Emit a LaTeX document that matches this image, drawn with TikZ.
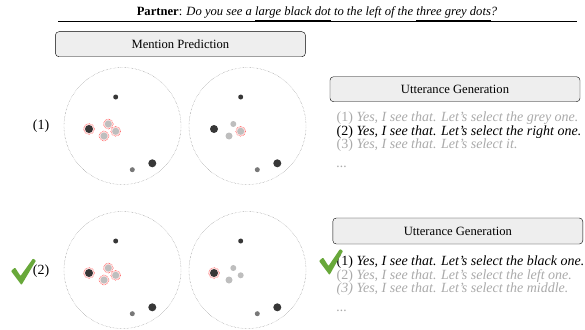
\documentclass[tikz,border=0pt]{standalone}
\usepackage{fontspec}
\setmainfont{Liberation Serif}
\usetikzlibrary{calc}

\definecolor{dotblack}{RGB}{55,55,55}
\definecolor{dotgrey}{RGB}{190,190,190}
\definecolor{dotmid}{RGB}{120,120,120}
\definecolor{boxfill}{RGB}{238,238,238}
\definecolor{faded}{RGB}{170,170,170}
\definecolor{tick}{RGB}{104,168,58}

\tikzset{
  view/.style={draw=gray,densely dotted,thin},
  stagebox/.style={draw,rounded corners=3.5pt,fill=boxfill,thin,inner sep=0pt,
    minimum width=250pt,font=\fontsize{12.6}{14}\selectfont},
  ring/.style={draw=red!80,densely dotted,fill=red!12,line width=0.5pt},
  line/.style={anchor=base west,inner sep=0pt,font=\fontsize{14}{15}\selectfont},
  checkmark/.style={fill=tick,rounded corners=0.8pt},
}

\begin{document}
\begin{tikzpicture}[x=1pt,y=-1pt]
\useasboundingbox (0,0) rectangle (585,329);
% Partner utterance and rule below it
\node[anchor=base,inner sep=0pt,font=\fontsize{12.6}{14}\selectfont] (partner) at (317,15.7)
  {\textbf{Partner}: \textit{Do you see a \underline{large black dot} to the left of the \underline{three grey dots}?}};
\coordinate (ruleL) at (58,21.7);
\coordinate (ruleR) at (577,21.7);
\draw[line width=0.8pt] (ruleL) -- (ruleR);
% Stage boxes
\node[stagebox,minimum height=25pt] (mention) at (180.4,44.2) {Mention Prediction};
\node[stagebox,minimum height=25pt] (gen1) at (455,89.2) {Utterance Generation};
\node[stagebox,minimum height=26pt] (gen2) at (457.8,231) {Utterance Generation};
% Candidate labels
\node[font=\fontsize{14}{15}\selectfont,inner sep=0pt] (cand1) at (41,126.5) {(1)};
\node[font=\fontsize{14}{15}\selectfont,inner sep=0pt] (cand2) at (41,271) {(2)};
% Views for candidate (1)
\begin{scope}[shift={(122.5,126)}]
\draw[view] (0,0) circle (58.5);
\filldraw[ring] (-33.5,3) circle (5.5);
\filldraw[ring] (-14.2,-2) circle (5);
\filldraw[ring] (-6.8,5.3) circle (5);
\filldraw[ring] (-18.5,10) circle (5);
\fill[dotblack] (-6.8,-29) circle (2.5);
\fill[dotblack] (-33.5,3) circle (4);
\fill[dotgrey] (-14.2,-2) circle (3.5);
\fill[dotgrey] (-6.8,5.3) circle (3.5);
\fill[dotgrey] (-18.5,10) circle (3.5);
\fill[dotblack] (29.8,37.3) circle (4);
\fill[dotmid] (9.8,43.7) circle (2.5);
\end{scope}
\begin{scope}[shift={(247.5,126)}]
\draw[view] (0,0) circle (58.5);
\filldraw[ring] (-6.8,5.3) circle (5);
\fill[dotblack] (-6.8,-29) circle (2.5);
\fill[dotblack] (-33.5,3) circle (4);
\fill[dotgrey] (-14.2,-2) circle (3);
\fill[dotgrey] (-6.8,5.3) circle (3.5);
\fill[dotgrey] (-18.5,10) circle (3.5);
\fill[dotblack] (29.8,37.3) circle (4);
\fill[dotmid] (9.8,43.7) circle (2.5);
\end{scope}
% Views for candidate (2)
\begin{scope}[shift={(122.5,270)}]
\draw[view] (0,0) circle (58.5);
\filldraw[ring] (-33.5,3) circle (5.5);
\filldraw[ring] (-14.2,-2) circle (5);
\filldraw[ring] (-6.8,5.3) circle (5);
\filldraw[ring] (-18.5,10) circle (5);
\fill[dotblack] (-6.8,-29) circle (2.5);
\fill[dotblack] (-33.5,3) circle (4);
\fill[dotgrey] (-14.2,-2) circle (3.5);
\fill[dotgrey] (-6.8,5.3) circle (3.5);
\fill[dotgrey] (-18.5,10) circle (3.5);
\fill[dotblack] (29.8,37.3) circle (4);
\fill[dotmid] (9.8,43.7) circle (2.5);
\end{scope}
\begin{scope}[shift={(247.5,270)}]
\draw[view] (0,0) circle (58.5);
\filldraw[ring] (-33.5,3) circle (5.5);
\fill[dotblack] (-6.8,-29) circle (2.5);
\fill[dotblack] (-33.5,3) circle (4);
\fill[dotgrey] (-14.2,-2) circle (3);
\fill[dotgrey] (-6.8,5.3) circle (3);
\fill[dotgrey] (-18.5,10) circle (3.5);
\fill[dotblack] (29.8,37.3) circle (4);
\fill[dotmid] (9.8,43.7) circle (2.5);
\end{scope}
% Generated utterances for (1)
\node[line,faded] (u11) at (336.5,121.5) {(1) \textit{Yes, I see that. Let's select the grey one.}};
\node[line] (u12) at (336.5,135) {(2) \textit{Yes, I see that. Let's select the right one.}};
\node[line,faded] (u13) at (336.5,148.5) {(3) \textit{Yes, I see that. Let's select it.}};
\node[line,faded] (u14) at (336.5,167) {\textit{...}};
% Generated utterances for (2)
\node[line] (u21) at (336.5,265.5) {(1) \textit{Yes, I see that. Let's select the black one.}};
\node[line,faded] (u22) at (336.5,279) {(2) \textit{Yes, I see that. Let's select the left one.}};
\node[line,faded] (u23) at (336.5,292.5) {\textit{(3) Yes, I see that. Let's select the middle.}};
\node[line,faded] (u24) at (336.5,311) {\textit{...}};
% Check marks
\fill[checkmark] (11,271) -- (15,267.5) -- (20.5,276) -- (33,258.5) -- (36,260.5) -- (21.5,285) -- cycle;
\fill[checkmark] (319,261) -- (323,257.5) -- (328.5,266) -- (340,249) -- (343,251) -- (329.5,275) -- cycle;
\end{tikzpicture}
\end{document}
